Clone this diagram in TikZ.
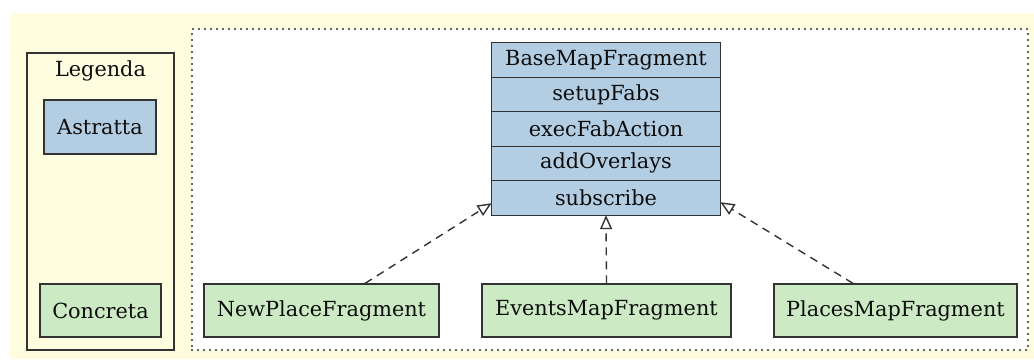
\documentclass[tikz,border=0pt]{standalone}
\usepackage{fontspec}
\setmainfont{DejaVu Serif}
\usetikzlibrary{arrows.meta,fit}
\definecolor{bgyellow}{HTML}{FEFDE0}
\definecolor{abstractfill}{HTML}{B3CDE3}
\definecolor{concretefill}{HTML}{CCEBC5}
\definecolor{edgegray}{HTML}{333333}
\tikzset{
  lbl/.style={font=\fontsize{20.8}{24}\selectfont, text=black!95},
  boxbase/.style={draw=edgegray, line width=1.25pt, inner sep=0pt, lbl},
  abstractbox/.style={boxbase, fill=abstractfill},
  concretebox/.style={boxbase, fill=concretefill, minimum height=53pt},
  rowbox/.style={lbl, inner sep=0pt, fill=abstractfill, minimum width=228pt,
    minimum height=34pt, anchor=north},
  rule/.style={draw=edgegray, line width=1.25pt},
  realize/.style={draw=edgegray, line width=1.4pt, dash pattern=on 8pt off 6pt,
    -{Triangle[open, length=14pt, width=12pt, line width=1.4pt]}},
}
\begin{document}
\begin{tikzpicture}[x=1pt, y=-1pt]
\useasboundingbox (0,0) rectangle (1034,359);
% page background
\fill[bgyellow] (10,12.5) rectangle (1034,359);

% legend
\node[draw=edgegray, line width=1.25pt, fill=bgyellow, minimum width=147pt,
      minimum height=297pt, inner sep=0pt] (legend) at (100.5,201.5) {};
\node[lbl] (legendtitle) at (100.5,71) {Legenda};
\node[abstractbox, minimum width=112pt, minimum height=54pt] (abs) at (100,127) {Astratta};
\node[concretebox, minimum width=121pt] (conc) at (100.5,310.5) {Concreta};

% package cluster
\node[draw=black!80, fill=white, line width=2.2pt, line cap=round,
      dash pattern=on 0pt off 6pt, inner sep=0pt,
      minimum width=836pt, minimum height=321pt] (pkg) at (610,189.5) {};

% abstract base class with its methods
\node[rowbox] (r1) at (606,43) {BaseMapFragment};
\node[rowbox] (r2) at (r1.south) {setupFabs};
\node[rowbox] (r3) at (r2.south) {execFabAction};
\node[rowbox] (r4) at (r3.south) {addOverlays};
\node[rowbox] (r5) at (r4.south) {subscribe};
\node[fit=(r1)(r5), inner sep=0pt] (base) {};
\draw[rule] (base.north west) rectangle (base.south east);
\foreach \r in {r1,r2,r3,r4}
  \draw[rule] (\r.south west) -- (\r.south east);

% concrete fragments
\node[concretebox, minimum width=235pt] (np) at (321.5,310.5) {NewPlaceFragment};
\node[concretebox, minimum width=249pt] (em) at (606.5,310.5) {EventsMapFragment};
\node[concretebox, minimum width=243pt] (pm) at (895.5,310.5) {PlacesMapFragment};

% realization arrows
\draw[realize] ([xshift=43.5pt]np.north) -- ([yshift=12pt]base.south west);
\draw[realize] (em.north) -- (base.south);
\draw[realize] ([xshift=-42.5pt]pm.north) -- ([yshift=13pt]base.south east);
\end{tikzpicture}
\end{document}
